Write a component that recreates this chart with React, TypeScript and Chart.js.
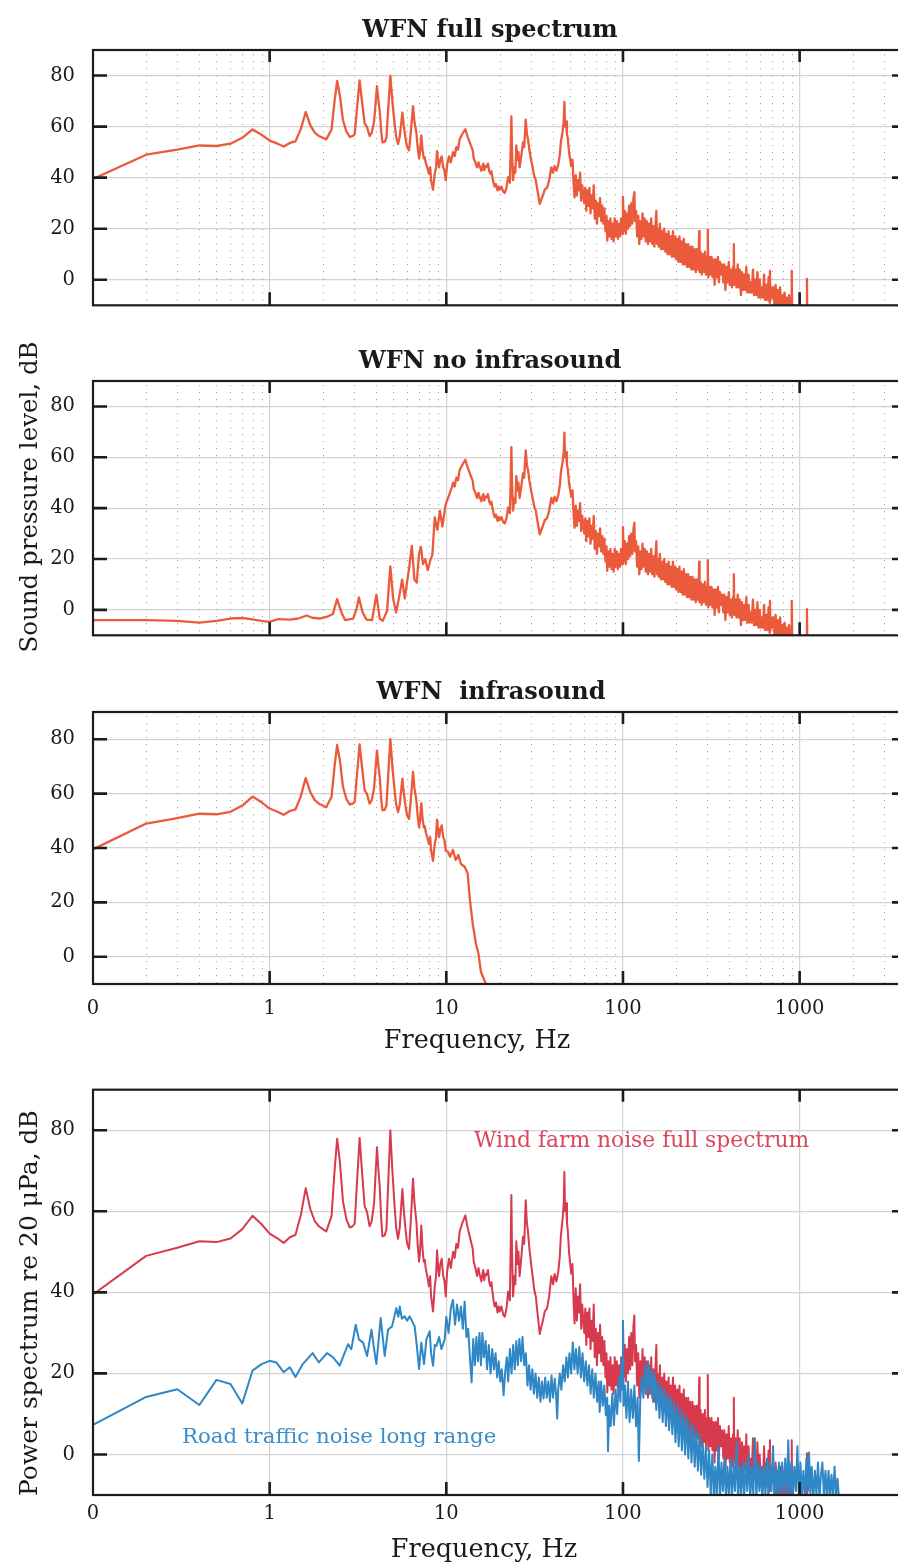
import React, { useEffect, useRef } from "react";
import { Chart, registerables } from "chart.js";

Chart.register(...registerables);

// ---------------- data: [frequency Hz, level dB] ----------------
const windFarmFull: [number, number][] = [
  [0.1, 39.5], [0.2, 49.0], [0.3, 51.0], [0.4, 52.6], [0.5, 52.4], [0.6, 53.3], [0.7, 55.6], [0.8, 58.9], [0.9, 56.8],
  [1.0, 54.5], [1.1, 53.4], [1.2, 52.2], [1.3, 53.6], [1.4, 54.2], [1.5, 59.0], [1.6, 65.7], [1.7, 60.5], [1.8, 57.6],
  [1.9, 56.3], [2.0, 55.6], [2.09, 55.0],
  [2.24, 58.8], [2.33, 70.0], [2.41, 77.9], [2.5, 72.0], [2.6, 62.5], [2.72, 58.0], [2.84, 56.0], [2.95, 56.3],
  [3.03, 57.0], [3.13, 68.0], [3.23, 78.1], [3.33, 70.0], [3.45, 61.2], [3.55, 60.0], [3.68, 56.3], [3.78, 57.5],
  [3.9, 62.0], [4.05, 75.8], [4.13, 70.0], [4.2, 66.0], [4.28, 58.0], [4.35, 53.8], [4.47, 54.0], [4.58, 55.5],
  [4.7, 68.0], [4.82, 80.0], [4.95, 70.0], [5.1, 61.0], [5.2, 56.0], [5.33, 53.2], [5.45, 56.0], [5.64, 65.5],
  [5.75, 60.0], [5.89, 55.0], [6.0, 52.0], [6.15, 50.7], [6.3, 58.0], [6.48, 68.0], [6.6, 62.0], [6.77, 57.5],
  [6.88, 52.0], [7.01, 47.6], [7.1, 50.0], [7.22, 56.5], [7.33, 51.0], [7.45, 47.6], [7.55, 48.0], [7.65, 45.8],
  [7.8, 44.0], [7.98, 41.5], [8.1, 44.0], [8.2, 39.0], [8.41, 35.3], [8.6, 41.5], [8.75, 44.0], [8.86, 50.4],
  [9.0, 46.0], [9.1, 44.0], [9.25, 47.0], [9.42, 48.3], [9.6, 44.0], [9.75, 43.0], [9.92, 39.0], [10.1, 45.0],
  [10.36, 48.3], [10.6, 46.0], [10.92, 50.0], [11.15, 48.5], [11.4, 52.0], [11.65, 51.0], [11.9, 55.0], [12.3, 57.0],
  [12.82, 59.0], [13.2, 56.0], [13.57, 53.8],
  [14.1, 50.8], [14.29, 47.6], [14.6, 46.0], [14.93, 44.0], [15.2, 46.0], [15.4, 44.6], [15.8, 42.7], [16.0, 44.5],
  [16.2, 45.5], [16.4, 43.0], [16.6, 44.5], [16.86, 44.2], [17.2, 45.5], [17.5, 42.5], [17.76, 41.5], [18.0, 42.5],
  [18.2, 40.5], [18.5, 38.0], [18.79, 36.5], [19.1, 37.5], [19.5, 35.0], [19.8, 36.5], [20.06, 35.3], [20.5, 36.5],
  [21.0, 34.5], [21.4, 34.0], [21.9, 36.0], [22.37, 40.2], [22.9, 38.0], [23.15, 52.0], [23.35, 64.0], [23.55, 50.0],
  [23.86, 39.0], [24.3, 44.0], [24.6, 42.0], [24.9, 52.6], [25.3, 47.0], [25.6, 50.0], [26.0, 44.0], [26.5, 48.0],
  [27.2, 53.8], [27.6, 52.0], [28.15, 62.7], [28.6, 57.0], [29.0, 55.0], [29.5, 51.0], [30.3, 46.4], [31.0, 43.0],
  [31.5, 40.5], [32.1, 39.0], [32.8, 35.0], [33.8, 29.7], [34.5, 31.5], [35.2, 33.0], [36.1, 35.3], [37.2, 36.1],
  [38.2, 39.0], [39.3, 44.0], [40.2, 42.0], [41.0, 44.5], [42.0, 42.7], [43.0, 45.0], [43.9, 48.9], [44.5, 54.0],
  [45.5, 58.0], [46.2, 62.0], [46.6, 69.7], [47.0, 60.0], [47.6, 62.0], [48.2, 57.0], [48.7, 55.4], [49.5, 50.0],
  [50.3, 47.0], [50.9, 44.6], [51.8, 47.0], [52.5, 38.0], [53.2, 32.3],
  [54.0, 41.0], [54.8, 33.0], [55.6, 39.0], [56.4, 35.0], [57.2, 42.0], [58.0, 31.0], [58.8, 37.0], [59.6, 33.0],
  [60.4, 30.0], [61.2, 36.0], [62.0, 27.0], [62.8, 35.0], [63.7, 29.0], [64.6, 36.0], [65.5, 26.0], [66.4, 33.0],
  [67.3, 28.0], [68.3, 37.0], [69.2, 24.0], [70.2, 31.0], [71.2, 22.0], [72.2, 30.0], [73.2, 25.0], [74.2, 32.0],
  [75.3, 23.0], [76.3, 29.0], [77.4, 22.0], [78.5, 28.0], [79.6, 19.0], [80.7, 25.0], [81.5, 15.3], [82.5, 23.0],
  [83.7, 17.0], [84.9, 24.0], [86.1, 16.0], [87.3, 22.0], [88.5, 15.0], [89.8, 24.0], [91.0, 17.0], [92.3, 23.0],
  [93.6, 16.0], [94.9, 22.0], [96.3, 17.0], [97.6, 24.0], [99.0, 18.0], [100.0, 32.5], [101.0, 19.0], [102.4, 27.0],
  [103.8, 18.0], [105.3, 26.0], [106.8, 20.0], [108.3, 29.0], [109.8, 21.0], [111.4, 30.0], [113.0, 22.0],
  [114.6, 31.8], [116.0, 34.3], [117.0, 23.0], [118.6, 27.0], [120.3, 17.0], [122.0, 25.0], [123.7, 14.0],
  [125.5, 23.0], [127.2, 16.0], [129.0, 26.0], [130.9, 17.0], [132.7, 24.0], [134.6, 15.0], [136.5, 23.0],
  [138.5, 14.0], [140.4, 22.0], [142.4, 15.0], [144.5, 24.0], [146.5, 14.0], [148.6, 21.0], [150.7, 13.0],
  [152.9, 22.0], [154.5, 27.0], [156.0, 14.0], [157.3, 20.0], [159.5, 13.0], [161.8, 22.0], [164.1, 12.0],
  [166.5, 19.0], [168.8, 12.0], [171.2, 20.0], [173.7, 11.0], [176.2, 18.0], [178.7, 10.0], [181.2, 19.0],
  [183.8, 10.0], [186.4, 17.0], [189.1, 9.0], [191.8, 19.0], [194.5, 9.0], [197.3, 17.0], [200.1, 8.0], [203.0, 16.0],
  [205.9, 7.0], [208.8, 17.0], [211.8, 7.0], [214.8, 15.0], [217.9, 6.0], [221.0, 16.0], [224.1, 6.0], [227.3, 14.0],
  [230.6, 5.0], [233.9, 14.0], [237.2, 5.0], [240.6, 13.0], [244.0, 4.0], [247.5, 13.0], [251.0, 4.0], [254.6, 12.0],
  [258.2, 3.0], [261.9, 12.0], [265.7, 4.0], [268.5, 11.0], [270.0, 19.0], [271.5, 3.0], [275.0, 11.0], [279.0, 2.0],
  [283.0, 10.0], [287.0, 3.0], [291.0, 11.0], [295.0, 2.0], [299.0, 9.0], [302.0, 19.6], [304.0, 1.0], [308.0, 9.0],
  [312.0, 2.0], [317.0, 9.0], [321.0, 1.0], [326.0, 8.0], [330.0, -2.0], [335.0, 8.0], [340.0, 1.0], [345.0, 9.0],
  [349.0, -1.0], [354.0, 7.0], [359.0, 2.0], [364.0, 6.0], [370.0, -1.0], [375.0, 6.0], [380.0, -4.0], [386.0, 5.0],
  [391.0, -1.0], [397.0, 7.0], [402.0, -2.0], [408.0, 4.0], [414.0, -3.0], [420.0, 5.0], [424.0, 14.0], [427.0, -2.0],
  [433.0, 4.0], [439.0, -3.0], [446.0, 6.0], [452.0, -3.0], [458.0, 4.0], [465.0, -6.0], [472.0, 3.0], [478.0, -4.0],
  [485.0, 2.0], [492.0, -4.0], [499.0, 5.0], [506.0, -5.0], [514.0, 2.0], [521.0, -5.0], [529.0, -1.0], [536.0, -5.0],
  [544.0, 4.0], [552.0, -6.0], [560.0, 0.0], [568.0, -6.0], [577.0, 3.0], [585.0, -7.0], [594.0, 0.0], [602.0, -7.0],
  [611.0, -3.0], [620.0, -7.0], [629.0, 2.0], [638.0, -8.0], [648.0, -2.0], [657.0, -8.0], [667.0, 1.0],
  [676.0, -9.0], [679.0, 3.5], [683.0, -8.0], [690.0, -3.0], [700.0, -7.0], [710.0, -3.0], [721.0, -10.0],
  [731.0, -2.0], [742.0, -10.0], [753.0, -4.0], [764.0, -11.0], [775.0, -3.0], [787.0, -11.0], [798.0, -6.0],
  [810.0, -12.0], [822.0, -5.0], [834.0, -12.0], [847.0, -7.0], [859.0, -12.0], [872.0, -6.0], [885.0, -13.0],
  [895.0, -9.0], [902.0, 3.5], [908.0, -13.0], [921.0, -10.0], [935.0, -14.0], [950.0, -11.0], [970.0, -15.0],
  [1000.0, -14.0], [1060.0, -15.0], [1095.0, -14.0], [1100.0, 0.3], [1105.0, -14.0], [1150.0, -16.0],
];

const windFarmNoInfraLow: [number, number][] = [
  [0.1, -4.0], [0.2, -4.0], [0.3, -4.3], [0.4, -5.0], [0.5, -4.3], [0.6, -3.4], [0.7, -3.2], [0.8, -3.7], [0.9, -4.3],
  [1.0, -4.7], [1.12, -3.6], [1.3, -3.8], [1.45, -3.4], [1.62, -2.2], [1.74, -3.1], [1.92, -3.4], [2.1, -2.8],
  [2.28, -1.6], [2.41, 4.2], [2.55, -1.0], [2.67, -4.0], [2.97, -3.4], [3.1, 0.2], [3.2, 4.9], [3.36, -1.0],
  [3.53, -3.8], [3.8, -4.0], [4.02, 6.0], [4.2, -3.4], [4.37, -4.3], [4.62, -0.4], [4.82, 17.1], [5.0, 4.5],
  [5.2, -1.0], [5.43, 5.8], [5.62, 11.9], [5.82, 4.5], [5.99, 10.7], [6.17, 16.8], [6.38, 25.2], [6.6, 11.9],
  [6.8, 10.7], [7.0, 21.7], [7.18, 24.8], [7.38, 18.0], [7.6, 19.9], [7.85, 15.6], [8.1, 19.3], [8.34, 21.7],
  [8.6, 36.4], [8.9, 31.5], [9.2, 38.9], [9.5, 32.8], [9.9, 41.3], [10.36, 45.0], [10.8, 48.7],
];

const windFarmInfraTail: [number, number][] = [
  [10.2, 38.7], [10.5, 36.8], [10.9, 39.3], [11.3, 35.6], [11.7, 37.4], [12.1, 34.1], [12.7, 33.1], [13.2, 30.7],
  [13.6, 20.9], [14.1, 12.3], [14.7, 4.9], [15.2, 1.2], [15.7, -5.5], [16.4, -8.6], [17.0, -11.0],
];

const roadTraffic: [number, number][] = [
  [0.1, 7.3], [0.2, 14.2], [0.3, 16.1], [0.4, 12.2], [0.5, 18.4], [0.6, 17.4], [0.7, 12.6], [0.8, 20.7], [0.9, 22.3],
  [1.0, 23.1], [1.09, 22.7], [1.2, 20.3], [1.3, 21.5], [1.4, 19.1], [1.54, 22.3], [1.75, 25.0], [1.9, 22.7],
  [2.11, 25.0], [2.28, 24.0], [2.49, 21.9], [2.78, 27.2], [2.9, 26.0], [3.07, 32.0], [3.2, 28.4], [3.38, 27.6],
  [3.56, 24.3], [3.77, 30.8], [3.9, 26.0], [4.02, 22.3], [4.25, 33.7], [4.48, 24.3], [4.68, 30.8], [4.93, 31.6],
  [5.21, 36.1], [5.35, 34.0], [5.45, 36.5], [5.6, 33.5], [5.81, 34.1], [6.0, 33.0], [6.2, 34.1], [6.62, 31.6],
  [6.8, 27.0], [7.01, 21.1], [7.22, 27.6], [7.48, 22.3], [7.71, 28.4], [8.05, 30.4], [8.2, 25.0], [8.41, 21.9],
  [8.6, 27.0], [8.79, 26.8], [9.1, 29.0], [9.38, 26.0], [9.79, 28.4],
  [10.0, 34.0], [10.3, 30.0], [10.6, 36.0], [10.9, 38.1], [11.2, 32.0], [11.5, 37.0], [11.8, 33.0], [12.1, 36.5],
  [12.4, 31.0], [12.7, 37.7], [13.0, 29.0], [13.3, 31.0], [13.6, 24.0], [13.9, 17.8], [14.2, 28.5], [14.5, 22.0],
  [14.8, 29.0], [15.1, 23.0], [15.4, 30.0], [15.7, 22.0], [16.0, 30.0], [16.3, 24.0], [16.7, 28.0], [17.0, 21.0],
  [17.4, 27.0], [17.8, 20.0], [18.2, 26.0], [18.6, 21.0], [19.0, 25.0], [19.4, 19.0], [19.8, 23.0], [20.2, 18.0],
  [20.6, 21.0], [21.1, 14.6], [21.5, 20.0], [22.0, 24.0], [22.4, 18.0], [22.9, 26.0], [23.4, 20.0], [23.9, 27.0],
  [24.4, 21.0], [24.9, 28.0], [25.4, 22.0], [25.9, 28.5], [26.5, 23.0], [27.0, 29.0], [27.6, 22.0], [28.2, 25.0],
  [28.8, 17.0], [29.4, 22.0], [30.0, 16.0], [30.7, 21.0], [31.3, 15.0], [32.0, 20.0], [32.7, 14.0], [33.4, 19.0],
  [34.1, 13.0], [34.8, 18.0], [35.5, 13.8], [36.3, 19.0], [37.0, 14.0], [37.8, 18.0], [38.6, 13.0], [39.4, 19.5],
  [40.2, 14.0], [41.1, 18.7], [41.8, 15.0], [42.4, 8.9], [43.0, 16.0], [43.9, 20.0], [44.8, 16.0], [45.8, 22.0],
  [46.8, 18.0], [47.8, 24.0], [48.8, 19.0], [49.8, 25.0], [50.9, 20.0], [52.0, 27.6], [53.1, 21.0], [54.2, 26.0],
  [55.4, 20.0], [56.6, 26.5], [57.8, 19.0], [59.0, 25.0], [60.3, 18.0], [61.6, 23.0], [62.9, 17.0], [64.2, 22.0],
  [65.6, 15.0], [67.0, 21.0], [68.4, 14.0], [69.9, 20.0], [71.4, 13.0], [72.9, 18.0], [73.8, 10.5], [75.2, 18.0],
  [76.8, 12.0], [78.4, 17.0], [80.0, 9.7], [81.4, 14.0], [82.3, 0.8], [83.5, 12.0], [85.2, 7.0], [87.0, 15.0],
  [88.9, 7.3], [90.8, 16.0], [92.7, 10.0], [94.7, 19.0], [96.7, 13.0], [98.1, 23.5], [99.3, 16.0], [100.0, 33.0],
  [100.8, 12.0], [102.5, 17.0], [104.6, 9.0], [106.8, 18.0], [109.0, 8.0], [111.3, 16.0], [113.7, 9.0],
  [116.1, 17.0], [118.5, 7.0], [121.0, 14.0], [123.0, -1.6], [125.2, 13.0], [127.8, 19.0], [130.5, 14.0],
  [133.3, 22.0], [136.1, 15.0], [139.0, 23.0], [141.9, 15.0], [144.9, 21.0], [148.0, 13.0], [151.1, 20.0],
  [154.3, 11.0], [157.6, 18.0], [160.9, 9.0], [164.3, 17.0], [167.8, 8.0], [171.3, 16.0], [175.0, 7.0],
  [178.6, 15.0], [182.4, 6.0], [186.2, 14.0], [190.2, 5.0], [194.2, 13.0], [198.3, 3.0], [202.5, 12.0], [206.7, 2.0],
  [211.1, 11.0], [215.5, 1.0], [220.1, 10.0], [224.7, 0.0], [229.5, 9.0], [234.3, -1.0], [239.3, 8.0], [244.3, -2.0],
  [249.5, 7.0], [254.7, -3.0], [260.1, 6.0], [265.6, -4.0], [271.2, 5.0], [276.9, -5.0], [282.8, 3.0], [288.7, -6.0],
  [294.8, 2.0], [301.0, -8.0], [307.4, 1.0], [313.9, -10.0], [320.5, 0.0], [327.3, -11.0], [333.0, -3.0],
  [340.0, -10.0], [347.0, 2.0], [354.0, -11.0], [361.0, -2.0], [368.0, -9.0], [375.0, -1.0], [383.0, -11.0],
  [390.0, -3.0], [398.0, -10.0], [406.0, -1.0], [414.0, -11.0], [423.0, -2.0], [431.0, -9.0], [440.0, 3.0],
  [448.0, -11.0], [457.0, -3.0], [466.0, -10.0], [476.0, -2.0], [485.0, -11.0], [495.0, -2.0], [505.0, -9.0],
  [515.0, 0.0], [525.0, -11.0], [536.0, -3.0], [547.0, -10.0], [558.0, 4.0], [569.0, -11.0], [580.0, -2.0],
  [592.0, -9.0], [603.0, -3.0], [615.0, -11.0], [628.0, -3.0], [640.0, -10.0], [653.0, -1.0], [666.0, -11.0],
  [680.0, -2.0], [693.0, -9.0], [707.0, 2.0], [721.0, -11.0], [736.0, -3.0], [750.0, -10.0], [765.0, -2.0],
  [781.0, -11.0], [796.0, -2.0], [812.0, -9.0], [829.0, -1.0], [845.0, -11.0], [862.0, 3.5], [880.0, -10.0],
  [897.0, -2.0], [915.0, -11.0], [933.0, -3.0], [952.0, -9.0], [971.0, 2.0], [990.0, -11.0], [1010.0, -2.0],
  [1030.0, -10.0], [1050.0, -4.0], [1071.0, -11.0], [1092.0, -1.0], [1114.0, -9.0], [1130.0, 0.5], [1150.0, -10.0],
  [1170.0, -3.0], [1195.0, -11.0], [1220.0, -4.0], [1245.0, -10.0], [1270.0, -2.0], [1295.0, -11.0], [1320.0, -5.0],
  [1345.0, -2.0], [1372.0, -10.0], [1400.0, -4.0], [1428.0, -11.0], [1456.0, -4.0], [1485.0, -10.0], [1515.0, -5.0],
  [1545.0, -11.0], [1576.0, -3.0], [1608.0, -10.0], [1640.0, -6.0], [1670.0, -11.0], [1700.0, -13.0],
];

const xTickValues = [0.1, 1, 10, 100, 1000];
const xTickLabels = ["0", "1", "10", "100", "1000"];
const yTickValues = [0, 20, 40, 60, 80];
const panelTitles = ["WFN full spectrum", "WFN no infrasound", "WFN  infrasound"];
const seriesLabels = ["Wind farm noise full spectrum", "Road traffic noise long range"];
const axisTitles = ["Sound pressure level, dB", "Power spectrum re 20 \u03bcPa, dB", "Frequency, Hz"];

// ---------------- styling / layout ----------------
const FONT = '"DejaVu Serif", serif';
const ORANGE = "#ec5a3c";
const RED = "#d7394d";
const BLUE = "#2f87c6";
const CANVAS_W = 920;
const AREA_LEFT = 93;
const AREA_RIGHT = 906;
const X_MIN = 0.1;
const X_MAX = 4000;

type Txt = {
  text: string; x: number; y: number; size: number; bold?: boolean; color?: string;
  align?: CanvasTextAlign; rotate?: boolean;
};
type DS = { points: [number, number][]; color: string; width: number };
type PanelSpec = {
  top: number; height: number; areaTop: number; areaBottom: number;
  showX: boolean; xPad: number; xH: number; minor: boolean; datasets: DS[]; texts: Txt[];
};

const minorX: number[] = [];
[0.1, 1, 10, 100, 1000].forEach((d) => {
  for (let m = 2; m <= 9; m++) if (m * d < X_MAX) minorX.push(m * d);
});

function makeFrame(spec: PanelSpec) {
  return {
    id: "frame",
    beforeDatasetsDraw(chart: any) {
      if (!spec.minor) return;
      const { ctx, chartArea: a } = chart;
      const x = chart.scales.x;
      ctx.save();
      ctx.strokeStyle = "#b3abab";
      ctx.lineWidth = 1.1;
      ctx.setLineDash([1.3, 5.7]);
      minorX.forEach((v) => {
        const px = Math.round(x.getPixelForValue(v)) + 0.5;
        ctx.beginPath();
        ctx.moveTo(px, a.top + 4);
        ctx.lineTo(px, a.bottom);
        ctx.stroke();
      });
      ctx.restore();
    },
    afterDatasetsDraw(chart: any) {
      const { ctx, chartArea: a } = chart;
      const x = chart.scales.x;
      const y = chart.scales.y;
      ctx.save();
      ctx.strokeStyle = "#1c1c1c";
      ctx.lineWidth = 2.2;
      ctx.strokeRect(a.left, a.top, a.right - a.left, a.bottom - a.top);
      ctx.lineWidth = 2.6;
      [1, 10, 100, 1000].forEach((v) => {
        const px = x.getPixelForValue(v);
        ctx.beginPath();
        ctx.moveTo(px, a.top); ctx.lineTo(px, a.top + 12);
        ctx.moveTo(px, a.bottom); ctx.lineTo(px, a.bottom - 13);
        ctx.stroke();
      });
      yTickValues.forEach((v) => {
        const py = y.getPixelForValue(v);
        ctx.beginPath();
        ctx.moveTo(a.left, py); ctx.lineTo(a.left + 14, py);
        ctx.moveTo(a.right, py); ctx.lineTo(a.right - 14, py);
        ctx.stroke();
      });
      spec.texts.forEach((t) => {
        ctx.save();
        ctx.font = `${t.bold ? "bold " : ""}${t.size}px ${FONT}`;
        ctx.fillStyle = t.color || "#1a1a1a";
        ctx.textAlign = t.align || "center";
        ctx.textBaseline = "alphabetic";
        const cy = t.y - spec.top;
        if (t.rotate) {
          ctx.translate(t.x, cy);
          ctx.rotate(-Math.PI / 2);
          ctx.fillText(t.text, 0, 0);
        } else {
          ctx.fillText(t.text, t.x, cy);
        }
        ctx.restore();
      });
      ctx.restore();
    },
  };
}

function Panel({ spec }: { spec: PanelSpec }) {
  const ref = useRef<HTMLCanvasElement>(null);
  useEffect(() => {
    const canvas = ref.current;
    if (!canvas) return;
    const tickFont = { family: FONT, size: 19.5 };
    const chart = new Chart(canvas, {
      type: "line",
      data: {
        datasets: spec.datasets.map((d) => ({
          data: d.points.map(([f, v]) => ({ x: f, y: v })),
          borderColor: d.color,
          borderWidth: d.width,
          pointRadius: 0,
          fill: false,
          tension: 0,
          borderJoinStyle: "round",
        })),
      },
      options: {
        animation: false,
        responsive: false,
        devicePixelRatio: 1,
        events: [],
        layout: {
          padding: {
            left: 0,
            right: CANVAS_W - AREA_RIGHT,
            top: spec.areaTop - spec.top,
            bottom: spec.top + spec.height - spec.areaBottom - spec.xH,
          },
        },
        plugins: { legend: { display: false }, tooltip: { enabled: false }, title: { display: false } },
        scales: {
          x: {
            type: "logarithmic",
            min: X_MIN,
            max: X_MAX,
            afterBuildTicks: (s: any) => { s.ticks = xTickValues.map((v) => ({ value: v })); },
            afterFit: (s: any) => { s.height = spec.xH; },
            ticks: {
              display: spec.showX,
              autoSkip: false,
              maxRotation: 0,
              minRotation: 0,
              padding: spec.xPad,
              font: tickFont,
              color: "#1a1a1a",
              callback: (v: any) => {
                const i = xTickValues.findIndex((t) => Math.abs(t - Number(v)) < 1e-9);
                return i >= 0 ? xTickLabels[i] : "";
              },
            },
            grid: { color: "#d3d3d3", lineWidth: 1.2, drawTicks: false },
            border: { display: false },
          },
          y: {
            type: "linear",
            min: -10,
            max: 90,
            afterBuildTicks: (s: any) => { s.ticks = yTickValues.map((v) => ({ value: v })); },
            afterFit: (s: any) => { s.width = AREA_LEFT; },
            ticks: { padding: 18, font: tickFont, color: "#1a1a1a" },
            grid: { color: "#d3d3d3", lineWidth: 1.2, drawTicks: false },
            border: { display: false },
          },
        },
      } as any,
      plugins: [makeFrame(spec)],
    });
    return () => chart.destroy();
  }, [spec]);
  return (
    <canvas
      ref={ref}
      width={CANVAS_W}
      height={spec.height}
      style={{ position: "absolute", left: 0, top: spec.top, width: CANVAS_W, height: spec.height }}
    />
  );
}

const panels: PanelSpec[] = [
  {
    top: 0, height: 335, areaTop: 50, areaBottom: 322, showX: false, xPad: 0, xH: 0, minor: true,
    datasets: [{ points: windFarmFull, color: ORANGE, width: 2.3 }],
    texts: [{ text: panelTitles[0], x: 490, y: 37, size: 24, bold: true }],
  },
  {
    top: 335, height: 330, areaTop: 381, areaBottom: 653, showX: false, xPad: 0, xH: 0, minor: true,
    datasets: [{ points: [...windFarmNoInfraLow, ...windFarmFull.filter(([f]) => f > 10.85)], color: ORANGE, width: 2.3 }],
    texts: [
      { text: panelTitles[1], x: 490, y: 368, size: 24, bold: true },
      { text: axisTitles[0], x: 37, y: 497, size: 24.5, rotate: true },
    ],
  },
  {
    top: 665, height: 395, areaTop: 712, areaBottom: 984, showX: true, xPad: 13, xH: 50, minor: true,
    datasets: [{ points: [...windFarmFull.filter(([f]) => f < 10), ...windFarmInfraTail], color: ORANGE, width: 2.3 }],
    texts: [
      { text: panelTitles[2], x: 491, y: 698.5, size: 24, bold: true },
      { text: axisTitles[2], x: 477, y: 1048, size: 25.5 },
    ],
  },
  {
    top: 1060, height: 504, areaTop: 1083, areaBottom: 1495, showX: true, xPad: 7, xH: 40, minor: false,
    datasets: [
      { points: roadTraffic, color: BLUE, width: 2 },
      { points: windFarmFull, color: RED, width: 2 },
    ],
    texts: [
      { text: axisTitles[1], x: 37, y: 1303, size: 25, rotate: true },
      { text: axisTitles[2], x: 484, y: 1557, size: 25.5 },
      { text: seriesLabels[0], x: 474, y: 1147, size: 21.8, color: "#d9475a", align: "left" },
      { text: seriesLabels[1], x: 182, y: 1443, size: 21.3, color: "#3a8ecb", align: "left" },
    ],
  },
];

export default function App() {
  return (
    <div
      style={{
        position: "absolute", left: 0, top: 0, width: 898, height: 1564, overflow: "hidden", background: "#ffffff",
      }}
    >
      {panels.map((p, i) => (
        <Panel key={i} spec={p} />
      ))}
    </div>
  );
}
